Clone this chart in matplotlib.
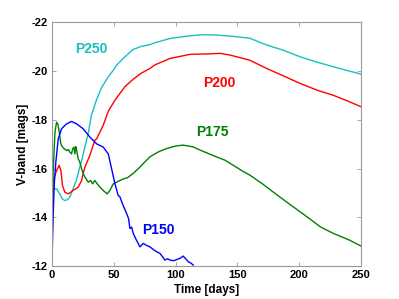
import matplotlib
matplotlib.use("Agg")
import matplotlib.pyplot as plt

plt.rcParams['font.family'] = ['Liberation Sans', 'DejaVu Sans']

# P250 (cyan)
t250 = [0, 0.5, 1, 3.8, 6.5, 8.5, 10.5, 12.5, 14.6, 17, 20, 22.6, 24, 27, 29.4, 32, 33.4, 36, 40,
        45.6, 50, 52.6, 59, 65.8, 72, 79.3, 83, 95.5, 111.7, 120, 128, 133, 144, 160, 173.7, 187,
        200.6, 215, 227.6, 240, 250]
m250 = [-12, -14.2, -15.17, -15.17, -14.95, -14.75, -14.69, -14.72, -14.84, -15.15, -15.55, -16.07,
        -16.3, -16.95, -17.44, -18.2, -18.4, -18.8, -19.3, -19.76, -20.05, -20.25, -20.58, -20.88,
        -21.0, -21.08, -21.15, -21.33, -21.44, -21.48, -21.48, -21.47, -21.43, -21.34, -21.06,
        -20.85, -20.58, -20.35, -20.17, -20.0, -19.87]

# P200 (red)
t200 = [0, 0.5, 1, 3.8, 5.9, 7.3, 8.6, 10.5, 13.2, 17.2, 21.3, 24, 25.3, 26.7, 30.7, 34.8, 36.2,
        41.5, 45.6, 51, 59, 65.5, 72, 79.3, 83, 95.5, 111.7, 120, 128, 136, 144, 160, 173.7, 187,
        200.6, 215, 227.6, 240, 250]
m200 = [-12, -14.6, -15.5, -15.92, -16.13, -15.92, -15.3, -15.03, -14.96, -15.1, -15.24, -15.5,
        -15.79, -16.05, -16.54, -17.16, -17.22, -17.77, -18.35, -18.8, -19.35, -19.65, -19.9,
        -20.1, -20.24, -20.51, -20.68, -20.69, -20.7, -20.72, -20.65, -20.44, -20.1, -19.8,
        -19.49, -19.2, -19.0, -18.75, -18.53]

# P175 (green)
t175 = [0, 1, 2.5, 3.8, 5.0, 5.9, 7.3, 8.6, 10.2, 11.9, 13.3, 14.6, 15.9, 16.8, 17.8, 18.6, 19.3,
        20, 21.3, 22.6, 24, 25.3, 26.7, 28, 29.4, 31.3, 32.9, 34.8, 36.7, 38.8, 41.5, 44.7, 46.9,
        49.6, 52.3, 55, 58, 61, 65.8, 70, 74, 79.3, 86, 92.8, 100, 106, 114, 120, 133, 140, 155,
        160, 170, 180.4, 190, 200.6, 210, 217, 227.6, 240, 250]
m175 = [-12, -15.8, -17.5, -17.9, -17.8, -17.5, -17.0, -16.88, -16.8, -16.74, -16.78, -16.67,
        -16.6, -16.8, -16.88, -16.6, -16.9, -16.74, -16.4, -16.26, -15.99, -15.8, -15.65, -15.55,
        -15.44, -15.51, -15.37, -15.51, -15.37, -15.24, -15.1, -14.96, -15.1, -15.37, -15.44,
        -15.51, -15.58, -15.62, -15.8, -16.0, -16.21, -16.48, -16.68, -16.82, -16.92, -16.96,
        -16.89, -16.75, -16.48, -16.34, -15.87, -15.73, -15.38, -14.98, -14.62, -14.23, -13.88,
        -13.61, -13.34, -13.08, -12.82]

# P150 (blue)
t150 = [0, 1, 2, 3.2, 5.1, 7.8, 11.9, 15.9, 20, 25.3, 30.7, 36.2, 41.5, 45.6, 48.3, 51, 53.6, 55,
        57.5, 60.4, 62, 63.1, 64.5, 65.8, 68, 71.2, 73.9, 76.5, 79.3, 82, 84.7, 87.4, 89.5, 91.4,
        93.5, 95.5, 98, 100.5, 103.6, 106.2, 108.2, 110.3, 112.5, 114.3]
m150 = [-12, -14.0, -15.4, -16.26, -17.2, -17.63, -17.83, -17.93, -17.83, -17.63, -17.29, -17.01,
        -16.88, -16.6, -15.99, -15.37, -14.9, -14.84, -14.5, -14.16, -13.95, -13.54, -13.6, -13.34,
        -13.1, -12.79, -12.93, -12.85, -12.79, -12.68, -12.59, -12.52, -12.38, -12.25, -12.3,
        -12.25, -12.22, -12.26, -12.32, -12.41, -12.3, -12.18, -12.12, -12.04]

labels = ["P250", "P200", "P175", "P150"]
label_x = [31.9, 135.5, 129.9, 85.8]
label_y = [-20.91, -19.52, -17.49, -13.48]
colors = ["#1ABFC0", "#FF0000", "#008000", "#0000FF"]

xticks = [0, 50, 100, 150, 200, 250]
yticks = [-22, -20, -18, -16, -14, -12]

fig = plt.figure(figsize=(3.99, 2.99), dpi=100)
ax = fig.add_axes([0.130, 0.110, 0.775, 0.816])

series = [(t250, m250), (t200, m200), (t175, m175), (t150, m150)]
for (t, m), c in zip(series, colors):
    ax.plot(t, m, color=c, lw=1.0)

for lab, x, y, c in zip(labels, label_x, label_y, colors):
    ax.text(x, y, lab, color=c, fontsize=10, fontweight='bold', ha='center', va='center')

ax.set_xlim(0, 250)
ax.set_ylim(-12, -22)
ax.set_xticks(xticks)
ax.set_yticks(yticks)
ax.set_xticklabels([str(v) for v in xticks], fontweight='bold')
ax.set_yticklabels([str(v) for v in yticks], fontweight='bold')
ax.tick_params(direction='in', length=3, width=0.6, color='#999999', labelsize=8, pad=3,
               top=True, right=True)
for s in ax.spines.values():
    s.set_color('#999999')
    s.set_linewidth(0.8)

ax.set_xlabel("Time [days]", fontsize=8.5, fontweight='bold', labelpad=3)
ax.set_ylabel("V-band [mags]", fontsize=8.5, fontweight='bold', labelpad=2)

fig.savefig("out.png", dpi=100)
